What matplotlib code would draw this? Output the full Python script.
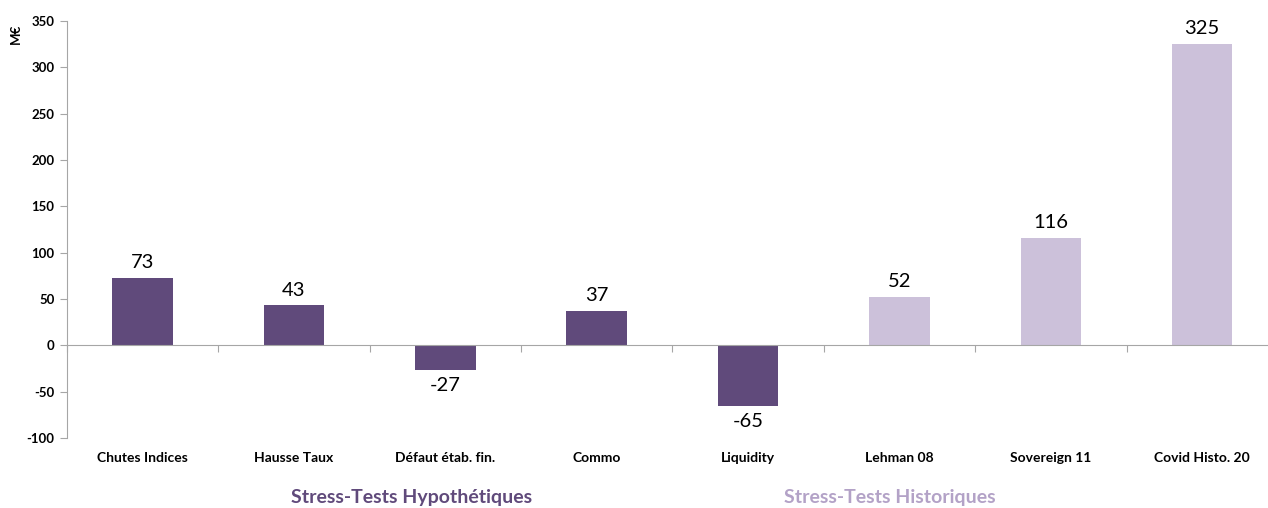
import matplotlib
matplotlib.use("Agg")
import matplotlib.pyplot as plt
import matplotlib.transforms as mtransforms
import numpy as np

plt.rcParams['font.family'] = ['Lato', 'DejaVu Sans']

categories = ["Chutes Indices", "Hausse Taux", "Défaut étab. fin.", "Commo",
              "Liquidity", "Lehman 08", "Sovereign 11", "Covid Histo. 20"]
values = [73, 43, -27, 37, -65, 52, 116, 325]
groups = ["hypo"] * 5 + ["histo"] * 3
yticks = [-100, -50, 0, 50, 100, 150, 200, 250, 300, 350]

DARK = "#604A7B"
LIGHT = "#CCC1DA"
colors = [DARK if g == "hypo" else LIGHT for g in groups]

fig = plt.figure(figsize=(12.68, 5.08), dpi=100)
# plot area runs slightly past the right edge, as in the original
ax = fig.add_axes([0.0528, 0.1378, 0.955, 0.8209])

x = np.arange(len(categories))
ax.bar(x, values, width=0.4, color=colors, zorder=2)

ax.set_xlim(-0.5, len(categories) - 0.5)
ax.set_ylim(-100, 350)
ax.set_yticks(yticks)
ax.set_yticklabels([str(v) for v in yticks], fontsize=9.5, fontweight="bold")
ax.tick_params(axis="y", direction="out", length=5, color="#A6A6A6", pad=4)

for s in ["top", "right"]:
    ax.spines[s].set_visible(False)
ax.spines["left"].set_color("#A6A6A6")
ax.spines["bottom"].set_color("#A6A6A6")
ax.spines["bottom"].set_position(("data", 0))

# ticks at category boundaries on the zero line
ax.set_xticks(np.arange(len(categories)) - 0.5)
ax.set_xticklabels([])
ax.tick_params(axis="x", direction="out", length=5, color="#A6A6A6")

# value labels
for xi, v in zip(x, values):
    if v >= 0:
        ax.annotate(str(v), (xi, v), xytext=(0, 5), textcoords="offset points",
                    ha="center", va="bottom", fontsize=14.5)
    else:
        ax.annotate(str(v), (xi, v), xytext=(0, -5), textcoords="offset points",
                    ha="center", va="top", fontsize=14.5)

# category labels at bottom
trans = mtransforms.blended_transform_factory(ax.transData, fig.transFigure)
for xi, c in zip(x, categories):
    ax.text(xi, 1 - 458 / 508, c, transform=trans, ha="center", va="center",
            fontsize=10, fontweight="bold")

# group labels
fig.text(412 / 1268, 1 - 498 / 508, "Stress-Tests Hypothétiques", ha="center",
         va="center", fontsize=14, fontweight="bold", color=DARK)
fig.text(890 / 1268, 1 - 498 / 508, "Stress-Tests Historiques", ha="center",
         va="center", fontsize=14, fontweight="bold", color="#B3A2C7")

# unit label
fig.text(16 / 1268, 1 - 34 / 508, "M€", rotation=90, ha="center", va="center",
         fontsize=9.5, fontweight="bold")

fig.savefig("out.png", dpi=100)
